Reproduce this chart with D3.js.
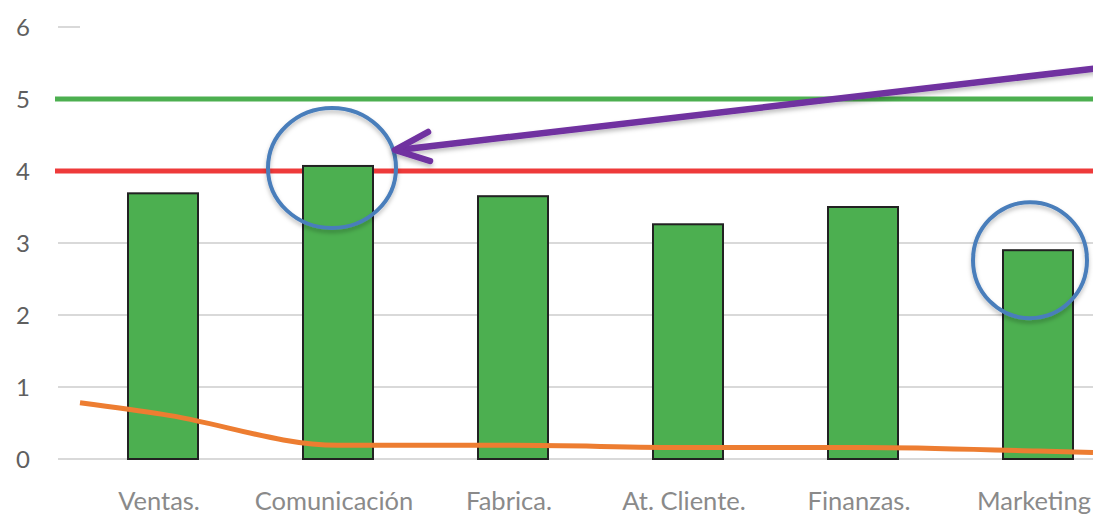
<!DOCTYPE html>
<html>
<head>
<meta charset="utf-8">
<script src="https://cdn.jsdelivr.net/npm/d3@7"></script>
<style>
  body { margin: 0; background: #fff; }
  svg { display: block; font-family: Lato, "Open Sans", sans-serif; }
</style>
</head>
<body>
<script>
// data
var areas = ["Ventas.", "Comunicación", "Fabrica.", "At. Cliente.", "Finanzas.", "Marketing"];
var scores = [3.69, 4.07, 3.65, 3.26, 3.5, 2.9];
var trend = [0.62, 0.19, 0.19, 0.16, 0.16, 0.11];
var trendEdges = [0.78, 0.09]; // value where the line meets the left / right edge
var yTicks = [0, 1, 2, 3, 4, 5, 6];
var targetLine = 5, limitLine = 4;
var highlighted = ["Comunicación", "Marketing"];

var width = 1093, height = 517;
var margin = {top: 27, left: 80, bottom: 58};

var svg = d3.select("body").append("svg")
    .attr("width", width)
    .attr("height", height);

var defs = svg.append("defs");
var shadow = defs.append("filter").attr("id", "shadow")
    .attr("x", "-20%").attr("y", "-20%").attr("width", "140%").attr("height", "140%");
shadow.append("feDropShadow")
    .attr("dx", 0).attr("dy", 3).attr("stdDeviation", 2)
    .attr("flood-color", "#000").attr("flood-opacity", 0.25);

// scales
var x = d3.scaleBand()
    .domain(areas)
    .range([75.5, 1125.5])
    .paddingInner(0.6)
    .paddingOuter(0.3);

var y = d3.scaleLinear()
    .domain([0, 6])
    .range([height - margin.bottom, margin.top]);

// gridlines
svg.append("g").selectAll("line")
  .data(yTicks)
  .enter().append("line")
    .attr("x1", 58)
    .attr("x2", function(d) { return d == 6 ? margin.left : width; })
    .attr("y1", function(d) { return y(d); })
    .attr("y2", function(d) { return y(d); })
    .style("stroke", "#d9d9d9")
    .style("stroke-width", 2);

// y labels
svg.append("g").selectAll("text")
  .data(yTicks)
  .enter().append("text")
    .attr("x", 23)
    .attr("y", function(d) { return y(d); })
    .attr("dy", "0.36em")
    .attr("text-anchor", "middle")
    .style("font-size", "24px")
    .style("fill", "#5f5f5f")
    .text(function(d) { return d; });

// target lines
svg.append("line")
    .attr("x1", 55).attr("x2", width)
    .attr("y1", y(targetLine)).attr("y2", y(targetLine))
    .style("stroke", "#4caf50").style("stroke-width", 5);

svg.append("line")
    .attr("x1", 55).attr("x2", width)
    .attr("y1", y(limitLine)).attr("y2", y(limitLine))
    .style("stroke", "#ee3a3a").style("stroke-width", 5);

// bars
svg.append("g").selectAll("rect")
  .data(scores)
  .enter().append("rect")
    .attr("x", function(d, i) { return x(areas[i]); })
    .attr("y", function(d) { return y(d); })
    .attr("width", x.bandwidth())
    .attr("height", function(d) { return y(0) - y(d); })
    .style("fill", "#4caf50")
    .style("stroke", "#222")
    .style("stroke-width", 2);

// trend line
var pts = [[margin.left, trendEdges[0]]];
trend.forEach(function(v, i) { pts.push([x(areas[i]) + x.bandwidth() / 2, v]); });
pts.push([width, trendEdges[1]]);

var line = d3.line()
    .x(function(d) { return d[0]; })
    .y(function(d) { return y(d[1]); })
    .curve(d3.curveMonotoneX);

svg.append("path")
    .datum(pts)
    .attr("d", line)
    .style("fill", "none")
    .style("stroke", "#ed7d31")
    .style("stroke-width", 5);

// x labels
svg.append("g").selectAll("text")
  .data(areas)
  .enter().append("text")
    .attr("x", function(d) { return x(d) + x.bandwidth() / 2 - 4; })
    .attr("y", 510)
    .attr("text-anchor", "middle")
    .style("font-size", "25.5px")
    .style("fill", "#8a8a8a")
    .text(function(d) { return d; });

// circles around the highlighted bars
var circleR = {"Comunicación": [64, 60], "Marketing": [57, 58]};
svg.append("g").selectAll("ellipse")
  .data(highlighted)
  .enter().append("ellipse")
    .attr("cx", function(d) { return x(d) + x.bandwidth() / 2 - (d == "Marketing" ? 8 : 6); })
    .attr("cy", function(d) { return y(scores[areas.indexOf(d)]) + (d == "Marketing" ? 10 : 2); })
    .attr("rx", function(d) { return circleR[d][0]; })
    .attr("ry", function(d) { return circleR[d][1]; })
    .style("fill", "none")
    .style("stroke", "#4a7ebb")
    .style("stroke-width", 4)
    .attr("filter", "url(#shadow)");

// purple arrow pointing at Comunicación
var tip = [395, 150];
var arrow = svg.append("g")
    .attr("filter", "url(#shadow)")
    .style("stroke", "#7030a0")
    .style("stroke-width", 6.5)
    .style("stroke-linecap", "round")
    .style("fill", "none");
arrow.append("line")
    .attr("x1", 1100).attr("y1", 68)
    .attr("x2", tip[0] + 3).attr("y2", tip[1]);
arrow.append("path")
    .attr("d", "M" + (tip[0] + 33) + "," + (tip[1] - 18) +
               "L" + tip[0] + "," + tip[1] +
               "L" + (tip[0] + 35) + "," + (tip[1] + 11))
    .style("stroke-linejoin", "round");
</script>
</body>
</html>
